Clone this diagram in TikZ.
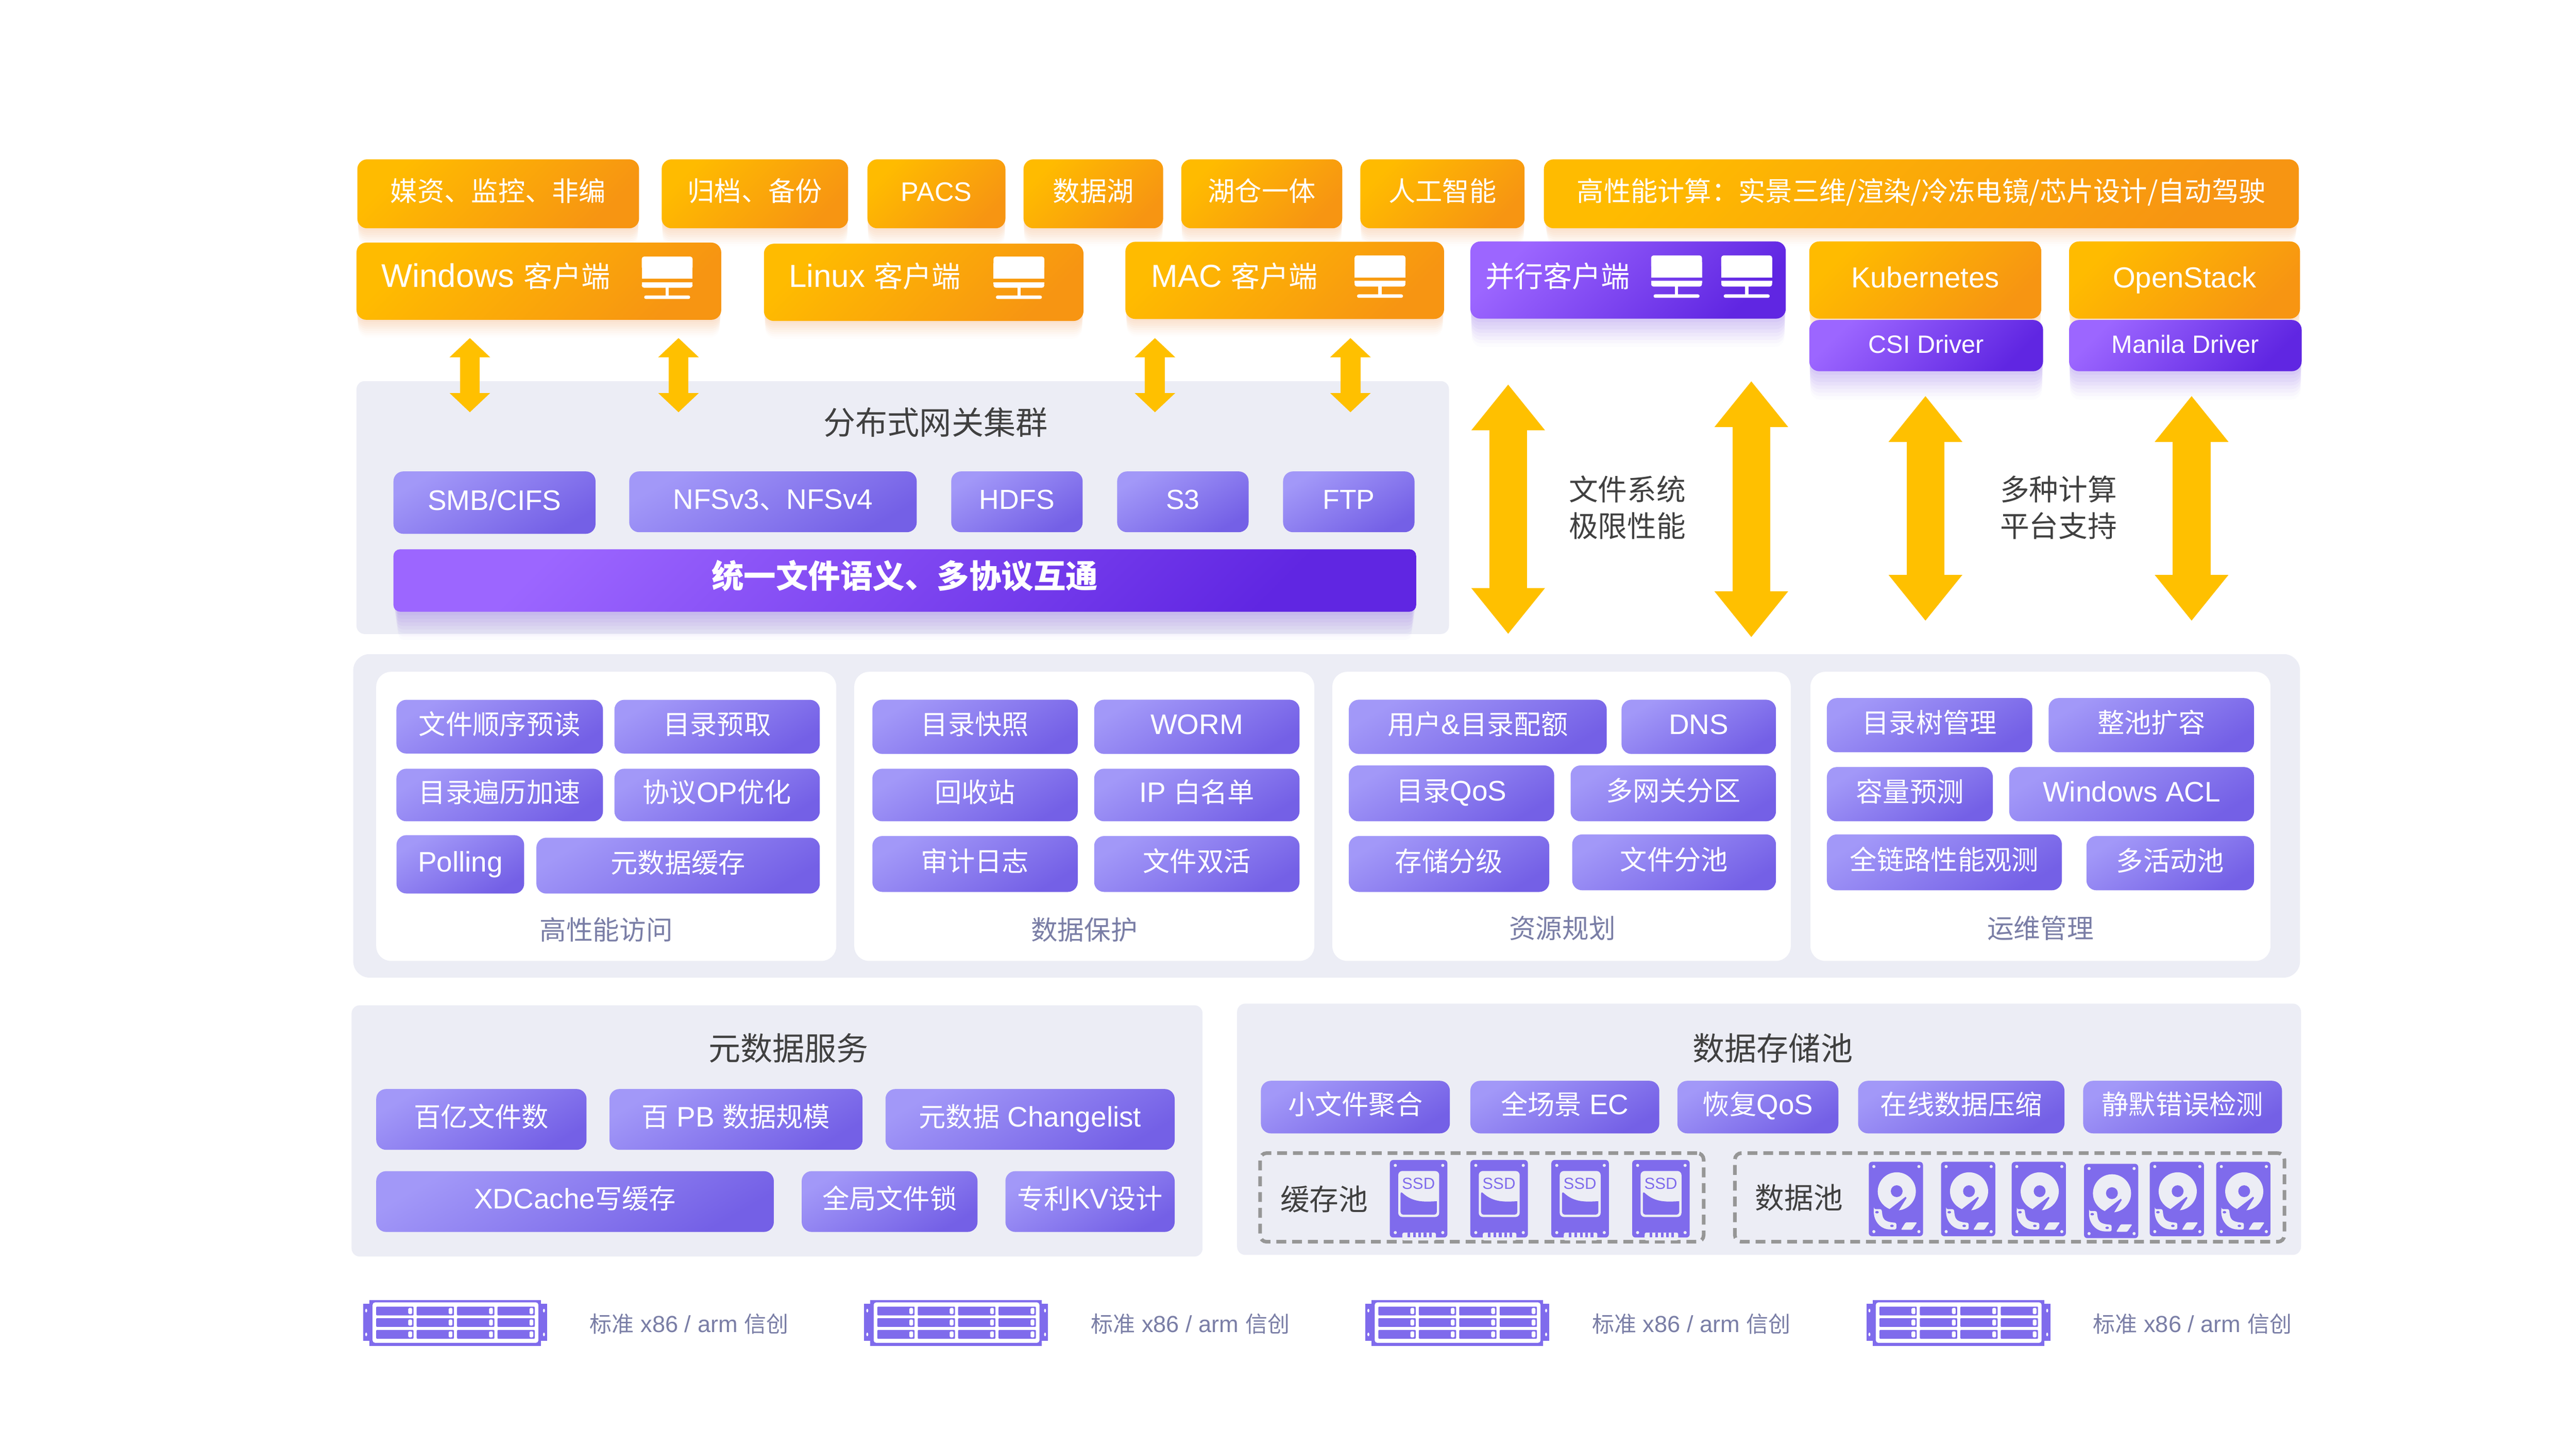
\documentclass[tikz,border=0pt]{standalone}
\usepackage{fontspec}
\setmainfont{Noto Sans CJK SC}
\newfontfamily\lat[Scale=1.05]{Liberation Sans}
\usetikzlibrary{arrows.meta,shadows}
\definecolor{panelgray}{HTML}{ECEDF5}
\definecolor{iconpurple}{HTML}{7F6BEC}
\definecolor{labelgray}{HTML}{7A7EA6}
\definecolor{titledark}{HTML}{404040}
\definecolor{dashgray}{HTML}{969696}
\definecolor{arrowgold}{HTML}{FFC000}
\definecolor{orangetl}{HTML}{FFBB00}
\definecolor{orangebr}{HTML}{F79512}
\definecolor{orangesh}{HTML}{F0A060}
\definecolor{violettl}{HTML}{9C66FF}
\definecolor{violetbr}{HTML}{6026E2}
\definecolor{violetsh}{HTML}{7A50E0}
\definecolor{lilactl}{HTML}{A298F8}
\definecolor{lilacbr}{HTML}{7460E6}
\tikzset{
  softshadow/.style 2 args={
    general shadow={fill=#1,fill opacity=.05,shadow yshift=-1*#2,shadow scale=.998},
    general shadow={fill=#1,fill opacity=.05,shadow yshift=-2*#2,shadow scale=.997},
    general shadow={fill=#1,fill opacity=.05,shadow yshift=-3*#2,shadow scale=.996},
    general shadow={fill=#1,fill opacity=.05,shadow yshift=-4*#2,shadow scale=.995},
    general shadow={fill=#1,fill opacity=.05,shadow yshift=-5*#2,shadow scale=.994},
    general shadow={fill=#1,fill opacity=.04,shadow yshift=-6*#2,shadow scale=.993},
    general shadow={fill=#1,fill opacity=.03,shadow yshift=-7*#2,shadow scale=.992},
    general shadow={fill=#1,fill opacity=.02,shadow yshift=-8*#2,shadow scale=.991}},
  basebox/.style={rectangle, inner sep=0pt, outer sep=0pt, text=white, align=center,
    text height=.95em, text depth=.05em},
  orangebox/.style={basebox, rounded corners=6pt, top color=orangetl, bottom color=orangebr,
    shading angle=45, softshadow={orangesh}{1.4pt}, font=\fontsize{16.4}{20}\selectfont},
  violetbox/.style={basebox, rounded corners=6pt, top color=violettl, bottom color=violetbr,
    shading angle=45, softshadow={violetsh}{2.2pt}, font=\fontsize{16}{20}\selectfont},
  lilacbtn/.style={basebox, rounded corners=6pt, top color=lilactl, bottom color=lilacbr,
    shading angle=30, font=\fontsize{16.4}{20}\selectfont},
  panelbox/.style={rectangle, inner sep=0pt, outer sep=0pt, fill=panelgray, rounded corners=5pt},
  cardbox/.style={rectangle, inner sep=0pt, outer sep=0pt, fill=white, rounded corners=9pt},
  poolbox/.style={rectangle, inner sep=0pt, outer sep=0pt, draw=dashgray, line width=2.2pt,
    dash pattern=on 6pt off 3.6pt, rounded corners=4pt},
  clienttext/.style={anchor=west, inner sep=0pt, text=white, font=\fontsize{17.6}{22}\selectfont},
  titletext/.style={inner sep=0pt, align=center, text=titledark, font=\fontsize{19.5}{24}\selectfont},
  sidetext/.style={inner sep=0pt, align=center, text=titledark, font=\fontsize{17.8}{22}\selectfont},
  cardtext/.style={inner sep=0pt, text=labelgray, font=\fontsize{16.2}{20}\selectfont},
  servertext/.style={inner sep=0pt, text=labelgray, font=\fontsize{13.5}{18}\selectfont},
  smallarrow/.style={arrowgold, line width=12.2pt, {Triangle[length=11.7pt,width=24pt]}-{Triangle[length=11.7pt,width=24pt]}},
  bigarrow/.style={arrowgold, line width=23pt, {Triangle[length=28pt,width=43pt]}-{Triangle[length=28pt,width=43pt]}},
  monitor/.pic={
    \fill[white,rounded corners=1.5pt](0,0)rectangle(31,8);
    \fill[white](0,4)rectangle(31,13.5);
    \fill[white](0,15.5)rectangle(31,17);
    \fill[white,rounded corners=1.5pt](0,16)rectangle(31,19);
    \fill[white](14.5,18)rectangle(16.5,24);
    \fill[white,rounded corners=1pt](1.5,23.7)rectangle(29.5,25.8);
  },
  ssdicon/.pic={
    \fill[iconpurple,rounded corners=2pt](0,0)rectangle(35,47.2);
    \fill[panelgray](3.3,3.3)circle(.95pt);
    \fill[panelgray](32.2,3.3)circle(.95pt);
    \fill[panelgray](3.3,44.2)circle(.95pt);
    \fill[panelgray](32.2,44.2)circle(.95pt);
    \fill[panelgray,rounded corners=2.5pt](5.1,6.7)rectangle(30,34.7);
    \fill[iconpurple,rounded corners=1.6pt](6.5,19)[sharp corners].. controls (14,26) and (21,25.5) .. (28.6,25.1)[rounded corners=1.6pt]--(28.6,33.3)--(6.5,33.3)--cycle;
    \node[inner sep=0pt, text=iconpurple, font=\lat\fontsize{9.3}{12}\selectfont](-name) at(17.4,14.3){SSD};
    \fill[panelgray,rounded corners=1pt](7.6,44.2)rectangle(28,49);
    \fill[panelgray](7.6,46)rectangle(28,47.2);
    \fill[iconpurple](10.7,44.2)rectangle(12.3,47.2);
    \fill[iconpurple](14.1,44.2)rectangle(15.7,47.2);
    \fill[iconpurple](17.4,44.2)rectangle(19,47.2);
    \fill[iconpurple](20.6,44.2)rectangle(22.2,47.2);
    \fill[iconpurple](23.9,44.2)rectangle(25.5,47.2);
  },
  hddicon/.pic={
    \fill[iconpurple,rounded corners=2pt](0,0)rectangle(33,45.3);
    \fill[panelgray](3.1,2.9)circle(.95pt);
    \fill[panelgray](30.5,2.9)circle(.95pt);
    \fill[panelgray](3.1,42.5)circle(.95pt);
    \fill[panelgray](30.5,42.5)circle(.95pt);
    \fill[panelgray](17.05,18)circle(11.6pt);
    \fill[iconpurple](17,17.9)circle(3.6pt);
    \fill[iconpurple](12.8,28.7)--(22.4,21.3)--(23,22)--(18.4,29.4)--(17,31)--(13,31)--cycle;
    \fill[panelgray,rounded corners=1pt](3.1,28.8)--(7.8,28.8)--(8.4,33.3).. controls (9.5,35.5) and (11,36.8) .. (16.8,37.1)--(16.8,41.2)--(12.5,41.2).. controls (7,40.5) and (2.8,36) .. cycle;
    \fill[iconpurple](5,30.7)ellipse(1.1pt and .75pt);
    \fill[iconpurple](14.1,39)ellipse(1.1pt and .75pt);
    \fill[panelgray,rounded corners=.5pt](22.4,36.9)--(29.4,36.9)--(26.3,41.4)--(19.6,41.4)--cycle;
  },
  rackbay/.pic={
    \fill[iconpurple,rounded corners=.4pt](0,0)rectangle(22.7,5.3);
    \fill[white,rounded corners=.6pt](19.5,.8)rectangle(21.8,4.5);
    \fill[white](20.5,.8)rectangle(21.5,4.5);
  },
  serverrack/.pic={
    \fill[iconpurple](3.8,0)rectangle(108.2,28);
    \fill[iconpurple](0,2.4)rectangle(3.8,24.8);
    \fill[iconpurple](108.2,2.4)rectangle(112,24.8);
    \fill[white](1.9,6.5)ellipse(.6pt and 1.1pt);
    \fill[white](1.9,21)ellipse(.6pt and 1.1pt);
    \fill[white](110.1,6.5)ellipse(.6pt and 1.1pt);
    \fill[white](110.1,21)ellipse(.6pt and 1.1pt);
    \fill[white,rounded corners=1.5pt](5.8,1.5)rectangle(106.7,26.1);
    \pic at(8,4.1){rackbay};
    \pic at(32.6,4.1){rackbay};
    \pic at(57.2,4.1){rackbay};
    \pic at(81.8,4.1){rackbay};
    \pic at(8,11.1){rackbay};
    \pic at(32.6,11.1){rackbay};
    \pic at(57.2,11.1){rackbay};
    \pic at(81.8,11.1){rackbay};
    \pic at(8,18.3){rackbay};
    \pic at(32.6,18.3){rackbay};
    \pic at(57.2,18.3){rackbay};
    \pic at(81.8,18.3){rackbay};
  },
}
\begin{document}
\begin{tikzpicture}[x=1pt, y=-1pt]
\useasboundingbox (0,0) rectangle (1568,882);
% gateway panel
\node[panelbox, minimum width=665pt, minimum height=154pt](gateway) at(549.5,309){};
\node[titletext](gatewaytitle) at(569.5,257){分布式网关集群};
\node[lilacbtn, minimum width=123pt, minimum height=38pt](smb) at(301,306){\lat SMB/CIFS};
\node[lilacbtn, minimum width=175pt, minimum height=37pt](nfs) at(470.5,305.5){{\lat NFSv3}、{\lat NFSv4}};
\node[lilacbtn, minimum width=80pt, minimum height=37pt, font=\fontsize{16}{20}\selectfont](hdfs) at(619,305.5){\lat HDFS};
\node[lilacbtn, minimum width=80pt, minimum height=37pt, font=\fontsize{16}{20}\selectfont](s3) at(720,305.5){\lat S3};
\node[lilacbtn, minimum width=80pt, minimum height=37pt, font=\fontsize{16}{20}\selectfont](ftp) at(821,305.5){\lat FTP};
\node[violetbox, rounded corners=4pt, minimum width=622.5pt, minimum height=38pt, font=\fontsize{19.6}{22}\bfseries\selectfont](banner) at(550.75,353.4){统一文件语义、多协议互通};
% top row
\node[orangebox, minimum width=171.5pt, minimum height=42pt](tagmedia) at(303.25,118){媒资、监控、非编};
\node[orangebox, minimum width=113.5pt, minimum height=42pt](tagarchive) at(459.5,118){归档、备份};
\node[orangebox, minimum width=84pt, minimum height=42pt, font=\fontsize{15.5}{20}\selectfont](tagpacs) at(570,118){\lat PACS};
\node[orangebox, minimum width=85pt, minimum height=42pt](taglake) at(665.5,118){数据湖};
\node[orangebox, minimum width=98pt, minimum height=42pt](taglakehouse) at(768,118){湖仓一体};
\node[orangebox, minimum width=100pt, minimum height=42pt](tagai) at(878,118){人工智能};
\node[orangebox, minimum width=459.5pt, minimum height=42pt](taghpc) at(1169.5,118){高性能计算：实景三维/渲染/冷冻电镜/芯片设计/自动驾驶};
% clients
\node[orangebox, minimum width=222pt, minimum height=47pt](win) at(328,171.2){};
\node[clienttext](wintext) at(232,168){{\lat\fontsize{19}{22}\selectfont Windows }客户端};
\pic at(390.6,156.2){monitor};
\node[orangebox, minimum width=194.5pt, minimum height=47pt](linux) at(562.25,171.9){};
\node[clienttext](linuxtext) at(480,168){{\lat\fontsize{18.5}{22}\selectfont Linux }客户端};
\pic at(604.7,156.2){monitor};
\node[orangebox, minimum width=194pt, minimum height=47pt](mac) at(782,170.7){};
\node[clienttext](mactext) at(700.5,168){{\lat\fontsize{18.5}{22}\selectfont MAC }客户端};
\pic at(824.5,155.5){monitor};
\node[violetbox, minimum width=192pt, minimum height=47pt](parallel) at(991,170.5){};
\node[clienttext](paralleltext) at(904,168){并行客户端};
\pic at(1005,155.5){monitor};
\pic at(1047.7,155.5){monitor};
\node[orangebox, minimum width=141.2pt, minimum height=47pt, font=\fontsize{16.8}{22}\selectfont](k8s) at(1171.9,170.5){\lat Kubernetes};
\node[orangebox, minimum width=140.6pt, minimum height=47pt, font=\fontsize{16.8}{22}\selectfont](openstack) at(1329.7,170.5){\lat OpenStack};
\node[violetbox, minimum width=142.3pt, minimum height=31.2pt, font=\fontsize{14.5}{20}\selectfont](csi) at(1172.45,210.4){\lat CSI Driver};
\node[violetbox, minimum width=141.6pt, minimum height=31.2pt, font=\fontsize{14.5}{20}\selectfont](manila) at(1330.2,210.4){\lat Manila Driver};
% arrows
\coordinate(ar1t) at(286,205.8);
\coordinate(ar1b) at(286,251);
\coordinate(ar2t) at(413,205.8);
\coordinate(ar2b) at(413,251);
\coordinate(ar3t) at(703,205.8);
\coordinate(ar3b) at(703,251);
\coordinate(ar4t) at(822,205.8);
\coordinate(ar4b) at(822,251);
\draw[smallarrow](ar1t)--(ar1b);
\draw[smallarrow](ar2t)--(ar2b);
\draw[smallarrow](ar3t)--(ar3b);
\draw[smallarrow](ar4t)--(ar4b);
\coordinate(br1t) at(918,234);
\coordinate(br1b) at(918,386);
\coordinate(br2t) at(1066,232);
\coordinate(br2b) at(1066,388);
\coordinate(br3t) at(1172,241);
\coordinate(br3b) at(1172,378);
\coordinate(br4t) at(1334,241);
\coordinate(br4b) at(1334,378);
\draw[bigarrow](br1t)--(br1b);
\draw[bigarrow](br2t)--(br2b);
\draw[bigarrow](br3t)--(br3b);
\draw[bigarrow](br4t)--(br4b);
\node[sidetext](fslabel) at(990.5,309){文件系统\\极限性能};
\node[sidetext](computelabel) at(1253,309){多种计算\\平台支持};
% feature panel
\node[panelbox, rounded corners=10pt, minimum width=1185pt, minimum height=197pt](features) at(807.5,496.7){};
\node[cardbox, minimum width=280pt, minimum height=176pt](card1) at(369,497){};
\node[cardbox, minimum width=280pt, minimum height=176pt](card2) at(660,497){};
\node[cardbox, minimum width=279pt, minimum height=176pt](card3) at(950.5,497){};
\node[cardbox, minimum width=280pt, minimum height=176pt](card4) at(1242,497){};
\node[lilacbtn, minimum width=125.7pt, minimum height=32.7pt](readahead) at(304.15,442.4){文件顺序预读};
\node[lilacbtn, minimum width=125pt, minimum height=32.7pt](prefetch) at(436.5,442.4){目录预取};
\node[lilacbtn, minimum width=125.7pt, minimum height=32pt](traverse) at(304.15,484){目录遍历加速};
\node[lilacbtn, minimum width=125pt, minimum height=32pt](opopt) at(436.5,484){协议{\lat OP}优化};
\node[lilacbtn, minimum width=77.7pt, minimum height=35.5pt](polling) at(280.2,526.2){\lat Polling};
\node[lilacbtn, minimum width=172.5pt, minimum height=34pt](metacache) at(412.75,527){元数据缓存};
\node[cardtext](card1label) at(369,566){高性能访问};
\node[lilacbtn, minimum width=125pt, minimum height=33pt](snapshot) at(593.5,442.5){目录快照};
\node[lilacbtn, minimum width=125pt, minimum height=33pt](worm) at(728.5,442.5){\lat WORM};
\node[lilacbtn, minimum width=125pt, minimum height=32pt](recycle) at(593.5,484){回收站};
\node[lilacbtn, minimum width=125pt, minimum height=32pt](whitelist) at(728.5,484){{\lat IP }白名单};
\node[lilacbtn, minimum width=125pt, minimum height=34pt](audit) at(593.5,526){审计日志};
\node[lilacbtn, minimum width=125pt, minimum height=34pt](active) at(728.5,526){文件双活};
\node[cardtext](card2label) at(660,566){数据保护};
\node[lilacbtn, minimum width=157pt, minimum height=33pt](quota) at(899.5,442.5){用户{\lat\&}目录配额};
\node[lilacbtn, minimum width=94pt, minimum height=33pt](dns) at(1034,442.5){\lat DNS};
\node[lilacbtn, minimum width=125pt, minimum height=34pt](dirqos) at(883.5,483){目录{\lat QoS}};
\node[lilacbtn, minimum width=125pt, minimum height=34pt](gwzone) at(1018.5,483){多网关分区};
\node[lilacbtn, minimum width=122pt, minimum height=34pt](tiering) at(882,526){存储分级};
\node[lilacbtn, minimum width=124pt, minimum height=34pt](filepool) at(1019,525){文件分池};
\node[cardtext](card3label) at(951,565){资源规划};
\node[lilacbtn, minimum width=125pt, minimum height=33pt](treemgmt) at(1174.5,441.5){目录树管理};
\node[lilacbtn, minimum width=125pt, minimum height=33pt](expand) at(1309.5,441.5){整池扩容};
\node[lilacbtn, minimum width=101pt, minimum height=33pt](forecast) at(1162.5,483.5){容量预测};
\node[lilacbtn, minimum width=149pt, minimum height=33pt](acl) at(1297.5,483.5){\lat Windows ACL};
\node[lilacbtn, minimum width=143pt, minimum height=34pt](observe) at(1183.5,525){全链路性能观测};
\node[lilacbtn, minimum width=102pt, minimum height=33pt](activepool) at(1321,525.5){多活动池};
\node[cardtext](card4label) at(1242,565){运维管理};
% metadata panel
\node[panelbox, minimum width=518pt, minimum height=153pt](meta) at(473,688.5){};
\node[titletext](metatitle) at(480,638){元数据服务};
\node[lilacbtn, minimum width=128pt, minimum height=37pt](tenbillion) at(293,681.5){百亿文件数};
\node[lilacbtn, minimum width=154pt, minimum height=37pt](pbscale) at(448,681.5){百{\lat\ PB }数据规模};
\node[lilacbtn, minimum width=176pt, minimum height=37pt](changelist) at(627,681.5){元数据{\lat\ Changelist}};
\node[lilacbtn, minimum width=242pt, minimum height=37pt](xdcache) at(350,731.5){{\lat XDCache}写缓存};
\node[lilacbtn, minimum width=107pt, minimum height=37pt](filelock) at(541.5,731.5){全局文件锁};
\node[lilacbtn, minimum width=103pt, minimum height=37pt](kvdesign) at(663.5,731.5){专利{\lat KV}设计};
% storage panel
\node[panelbox, minimum width=647.6pt, minimum height=153pt](store) at(1076.8,687.5){};
\node[titletext](storetitle) at(1079,638){数据存储池};
\node[lilacbtn, minimum width=115pt, minimum height=32pt](smallfile) at(825,674){小文件聚合};
\node[lilacbtn, minimum width=115pt, minimum height=32pt](fullec) at(952.5,674){全场景{\lat\ EC}};
\node[lilacbtn, minimum width=98pt, minimum height=32pt](recoverqos) at(1070,674){恢复{\lat QoS}};
\node[lilacbtn, minimum width=125.6pt, minimum height=32pt](compress) at(1193.8,674){在线数据压缩};
\node[lilacbtn, minimum width=121pt, minimum height=32pt](silent) at(1328.5,674){静默错误检测};
\node[poolbox, minimum width=270pt, minimum height=54pt](cachepool) at(902,729){};
\node[sidetext](cachelabel) at(806,730){缓存池};
\pic(ssd1) at(846,706.2){ssdicon};
\pic(ssd2) at(895,706.2){ssdicon};
\pic(ssd3) at(944.3,706.2){ssdicon};
\pic(ssd4) at(993.5,706.2){ssdicon};
\node[poolbox, minimum width=334.5pt, minimum height=54pt](datapool) at(1223.25,729){};
\node[sidetext](datalabel) at(1095,729){数据池};
\pic at(1137.5,707.3){hddicon};
\pic at(1181.5,707.3){hddicon};
\pic at(1224.5,707.3){hddicon};
\pic at(1268.5,708.5){hddicon};
\pic at(1308.5,707.3){hddicon};
\pic at(1349,707.3){hddicon};
% servers
\pic at(221,791.4){serverrack};
\node[servertext](server1) at(419.5,806){标准{\lat\ x86 / arm }信创};
\pic at(526,791.4){serverrack};
\node[servertext](server2) at(724.5,806){标准{\lat\ x86 / arm }信创};
\pic at(831,791.4){serverrack};
\node[servertext](server3) at(1029.5,806){标准{\lat\ x86 / arm }信创};
\pic at(1136,791.4){serverrack};
\node[servertext](server4) at(1334.5,806){标准{\lat\ x86 / arm }信创};
\end{tikzpicture}
\end{document}
